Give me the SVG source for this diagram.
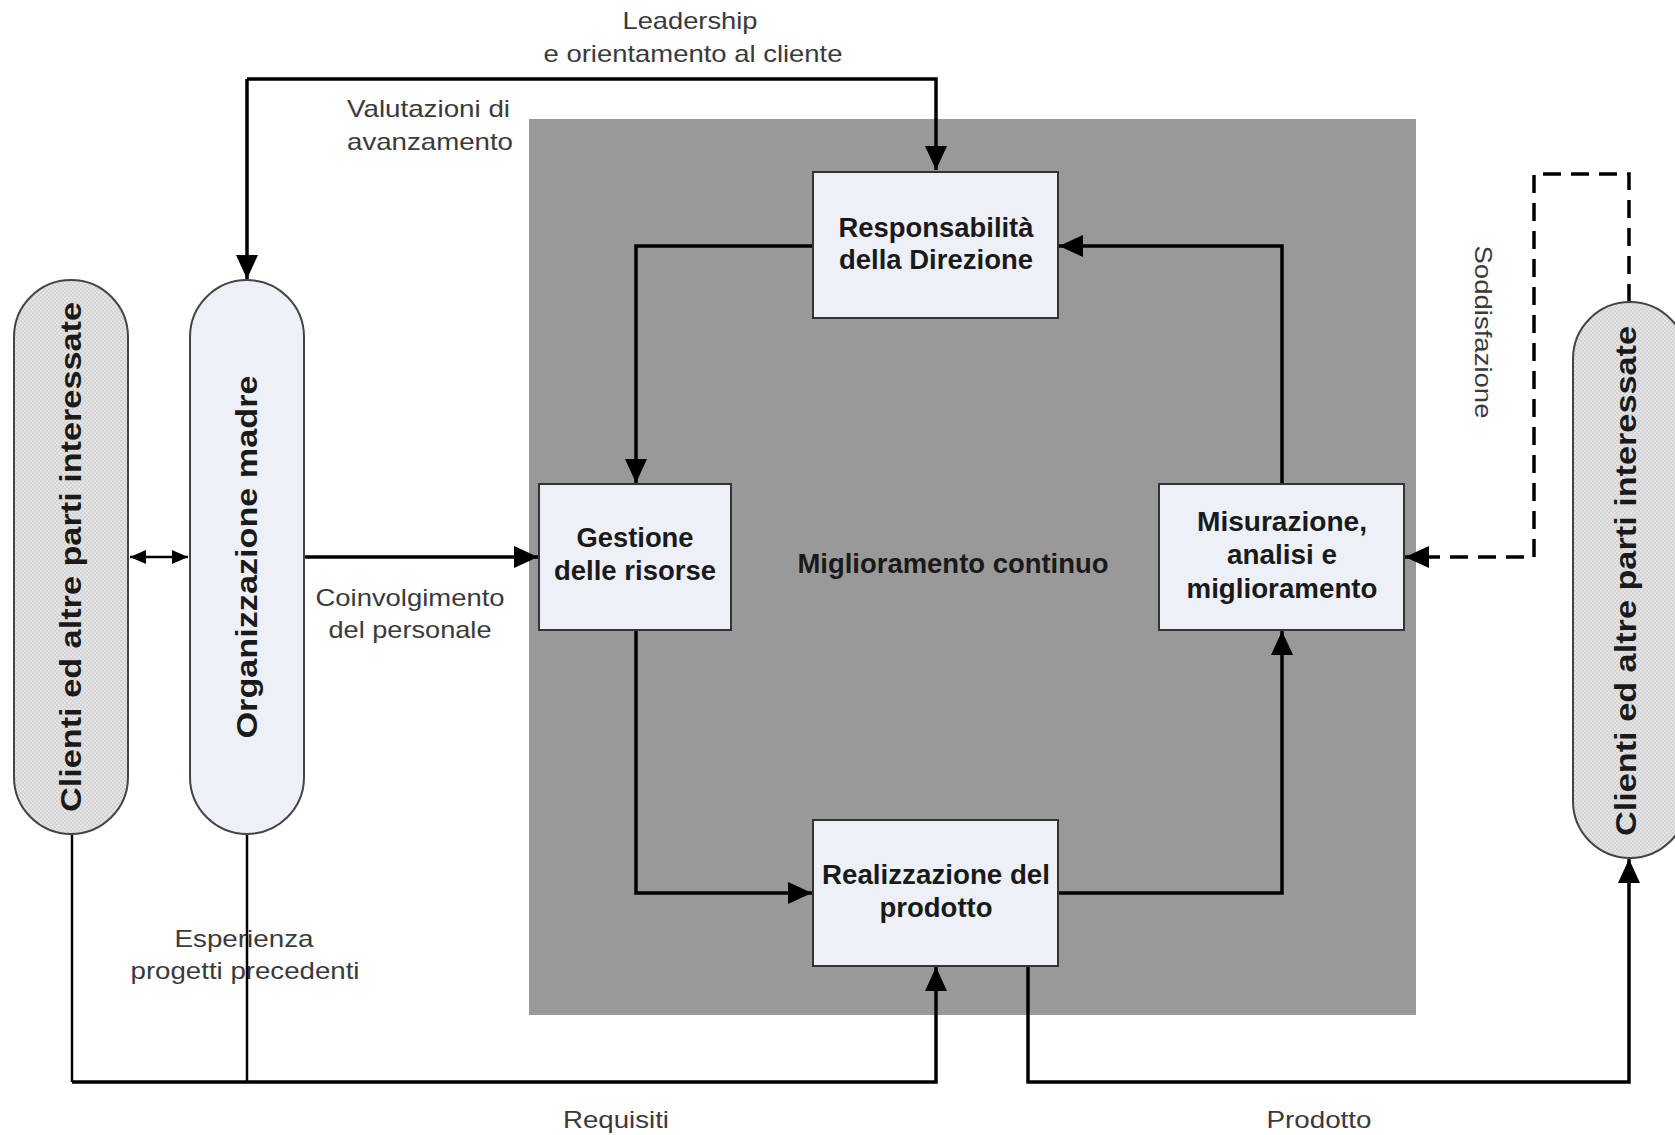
<svg xmlns="http://www.w3.org/2000/svg" width="1675" height="1135" viewBox="0 0 1675 1135">
<defs>
<pattern id="chk" width="4" height="4" patternUnits="userSpaceOnUse">
<rect width="4" height="4" fill="#e4e4e4"/>
<rect width="2" height="2" fill="#d4d4d4"/>
<rect x="2" y="2" width="2" height="2" fill="#d4d4d4"/>
</pattern>
<marker id="ah" markerUnits="userSpaceOnUse" markerWidth="24" markerHeight="22" refX="24" refY="11" orient="auto-start-reverse">
<path d="M0,0 L24,11 L0,22 z" fill="#000"/>
</marker>
<marker id="ahs" markerUnits="userSpaceOnUse" markerWidth="16" markerHeight="14" refX="16" refY="7" orient="auto-start-reverse">
<path d="M0,0 L16,7 L0,14 z" fill="#000"/>
</marker>
</defs>
<style>
.box{fill:#eef0f8;stroke:#333;stroke-width:2}
.pill{stroke:#444;stroke-width:2}
.nt{font-family:"Liberation Sans",Arial,sans-serif;font-weight:bold;font-size:27px;fill:#1a1a1a;text-anchor:middle}
.pt{font-family:"Liberation Sans",Arial,sans-serif;font-weight:bold;font-size:29px;fill:#1a1a1a;text-anchor:middle}
.lb{font-family:"Liberation Sans",Arial,sans-serif;font-size:24px;fill:#3a3a3a;text-anchor:middle}
.ln{fill:none;stroke:#000;stroke-width:3.5}
.thin{fill:none;stroke:#000;stroke-width:2.5}
</style>
<rect width="1675" height="1135" fill="#fff"/>
<g id="area">
<rect x="529" y="119" width="887" height="896" fill="#999"/>
<text class="nt" x="953" y="573" textLength="311" lengthAdjust="spacingAndGlyphs">Miglioramento continuo</text>
</g>
<g id="labels">
<text class="lb" x="690" y="29" textLength="135" lengthAdjust="spacingAndGlyphs">Leadership</text>
<text class="lb" x="693" y="62" textLength="299" lengthAdjust="spacingAndGlyphs">e orientamento al cliente</text>
<text class="lb" x="347" y="117" style="text-anchor:start" textLength="163" lengthAdjust="spacingAndGlyphs">Valutazioni di</text>
<text class="lb" x="347" y="150" style="text-anchor:start" textLength="166" lengthAdjust="spacingAndGlyphs">avanzamento</text>
<text class="lb" x="410" y="606" textLength="189" lengthAdjust="spacingAndGlyphs">Coinvolgimento</text>
<text class="lb" x="410" y="638" textLength="163" lengthAdjust="spacingAndGlyphs">del personale</text>
<text class="lb" x="244" y="947" textLength="139" lengthAdjust="spacingAndGlyphs">Esperienza</text>
<text class="lb" x="245" y="979" textLength="229" lengthAdjust="spacingAndGlyphs">progetti precedenti</text>
<text class="lb" x="616" y="1128" textLength="106" lengthAdjust="spacingAndGlyphs">Requisiti</text>
<text class="lb" x="1319" y="1128" textLength="105" lengthAdjust="spacingAndGlyphs">Prodotto</text>
<text class="lb" transform="translate(1475,332) rotate(90)" textLength="173" lengthAdjust="spacingAndGlyphs">Soddisfazione</text>
</g>
<g id="connectors">
<path class="ln" d="M247,79 L936,79 L936,170" marker-end="url(#ah)"/>
<path class="ln" d="M247,79 L247,279" marker-end="url(#ah)"/>
<path class="ln" d="M813,246 L636,246 L636,483" marker-end="url(#ah)"/>
<path class="ln" d="M1282,484 L1282,246 L1059,246" marker-end="url(#ah)"/>
<path class="ln" d="M636,630 L636,893 L812,893" marker-end="url(#ah)"/>
<path class="ln" d="M1058,893 L1282,893 L1282,631" marker-end="url(#ah)"/>
<path class="ln" d="M304,557 L538,557" marker-end="url(#ah)"/>
<path class="thin" d="M130,557 L188,557" marker-start="url(#ahs)" marker-end="url(#ahs)"/>
<path class="ln" d="M1629,302 L1629,174 L1534,174 L1534,557 L1405,557" stroke-dasharray="18 10" marker-end="url(#ah)"/>
<path class="thin" d="M72,834 L72,1082"/>
<path class="thin" d="M247,834 L247,1082"/>
<path class="ln" d="M72,1082 L936,1082 L936,967" marker-end="url(#ah)"/>
<path class="ln" d="M1028,966 L1028,1082 L1629,1082 L1629,859" marker-end="url(#ah)"/>
</g>
<g id="n-clienti-sx">
<rect class="pill" x="14" y="280" width="114" height="554" rx="57" fill="url(#chk)"/>
<text class="pt" transform="translate(71,557) rotate(-90)" y="10" textLength="510" lengthAdjust="spacingAndGlyphs">Clienti ed altre parti interessate</text>
</g>
<g id="n-organizzazione">
<rect class="pill" x="190" y="280" width="114" height="554" rx="57" fill="#eef0f8"/>
<text class="pt" transform="translate(247,557) rotate(-90)" y="10" textLength="363" lengthAdjust="spacingAndGlyphs">Organizzazione madre</text>
</g>
<g id="n-clienti-dx">
<rect class="pill" x="1573" y="302" width="114" height="556" rx="57" fill="url(#chk)"/>
<text class="pt" transform="translate(1626,581) rotate(-90)" y="10" textLength="510" lengthAdjust="spacingAndGlyphs">Clienti ed altre parti interessate</text>
</g>
<g id="n-responsabilita">
<rect class="box" x="813" y="172" width="245" height="146"/>
<text class="nt" x="936" y="237" textLength="195" lengthAdjust="spacingAndGlyphs">Responsabilità</text>
<text class="nt" x="936" y="269" textLength="194" lengthAdjust="spacingAndGlyphs">della Direzione</text>
</g>
<g id="n-gestione">
<rect class="box" x="539" y="484" width="192" height="146"/>
<text class="nt" x="635" y="547" textLength="117" lengthAdjust="spacingAndGlyphs">Gestione</text>
<text class="nt" x="635" y="580" textLength="162" lengthAdjust="spacingAndGlyphs">delle risorse</text>
</g>
<g id="n-misurazione">
<rect class="box" x="1159" y="484" width="245" height="146"/>
<text class="nt" x="1282" y="531" textLength="170" lengthAdjust="spacingAndGlyphs">Misurazione,</text>
<text class="nt" x="1282" y="564" textLength="110" lengthAdjust="spacingAndGlyphs">analisi e</text>
<text class="nt" x="1282" y="598" textLength="191" lengthAdjust="spacingAndGlyphs">miglioramento</text>
</g>
<g id="n-realizzazione">
<rect class="box" x="813" y="820" width="245" height="146"/>
<text class="nt" x="936" y="884" textLength="228" lengthAdjust="spacingAndGlyphs">Realizzazione del</text>
<text class="nt" x="936" y="917" textLength="113" lengthAdjust="spacingAndGlyphs">prodotto</text>
</g>
</svg>
